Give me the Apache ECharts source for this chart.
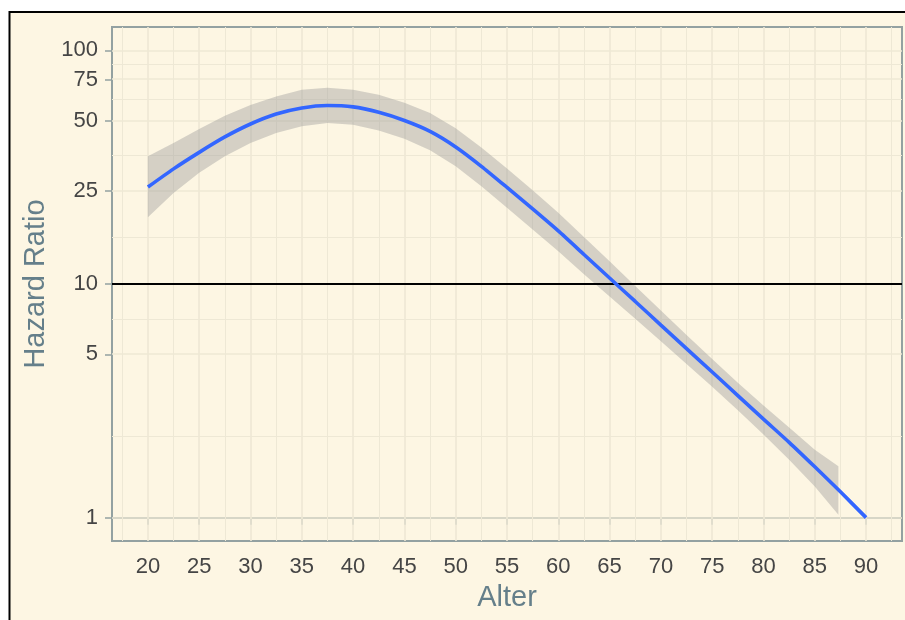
<!DOCTYPE html>
<html>
<head>
<meta charset="utf-8">
<style>
  html, body { margin: 0; padding: 0; background: #ffffff; }
  #chart { width: 905px; height: 620px; }
</style>
<script src="https://cdn.jsdelivr.net/npm/echarts@6/dist/echarts.min.js"></script>
</head>
<body>
<div id="chart"></div>
<script>
// axis ticks
const ageTicks = [20, 25, 30, 35, 40, 45, 50, 55, 60, 65, 70, 75, 80, 85, 90];
const hrTicks = [1, 5, 10, 25, 50, 75, 100];

// fitted hazard ratio (spline)
const ageLine = [20, 22.5, 25, 27.5, 30, 32.5, 35, 37.5, 40, 42.5, 45, 47.5, 50, 52.5, 55,
  57.5, 60, 62.5, 65, 67.5, 70, 72.5, 75, 77.5, 80, 82.5, 85, 87.5, 90];
const hrLine = [26.0, 31.1, 36.6, 42.6, 48.4, 53.4, 56.7, 58.1, 57.3, 54.3, 50.1, 45.0, 38.6, 31.9, 25.9,
  20.95, 16.87, 13.38, 10.61, 8.42, 6.67, 5.29, 4.20, 3.33, 2.64, 2.10, 1.65, 1.29, 1.0];

// confidence band
const ageBand = [20, 22.5, 25, 27.5, 30, 32.5, 35, 37.5, 40, 42.5, 45, 47.5, 50, 52.5, 55,
  57.5, 60, 62.5, 65, 67.5, 70, 72.5, 75, 77.5, 80, 82.5, 85, 87.3];
const hrUpper = [35.2, 40.1, 46.1, 52.5, 58.4, 63.5, 67.9, 69.2, 67.9, 64.6, 59.7, 53.9, 46.4, 38.4, 31.2,
  25.2, 20.2, 15.9, 12.5, 9.8, 7.7, 6.05, 4.77, 3.78, 3.02, 2.43, 1.95, 1.66];
const hrLower = [19.3, 24.5, 29.9, 35.2, 40.1, 44.3, 47.3, 48.9, 48.1, 45.4, 41.9, 37.4, 31.9, 26.2, 21.2,
  17.1, 13.8, 11.0, 8.85, 7.10, 5.69, 4.55, 3.63, 2.88, 2.27, 1.77, 1.36, 1.03];

const refLevel = 10;

// log10 scale, like scale_y_log10
const lg = v => Math.log10(v);

// 5% expansion like ggplot
const xPad = (ageTicks[ageTicks.length - 1] - ageTicks[0]) * 0.05;
const xMin = ageTicks[0] - xPad, xMax = ageTicks[ageTicks.length - 1] + xPad;
const yPad = (lg(hrTicks[hrTicks.length - 1]) - lg(hrTicks[0])) * 0.05;
const yMin = lg(hrTicks[0]) - yPad, yMax = lg(hrTicks[hrTicks.length - 1]) + yPad;

// minor breaks: midpoints between majors
const ageMinor = ageTicks.map(v => v - 2.5).concat([ageTicks[ageTicks.length - 1] + 2.5]);
const hrMinor = [];
for (let i = 0; i < hrTicks.length - 1; i++) {
  hrMinor.push((lg(hrTicks[i]) + lg(hrTicks[i + 1])) / 2);
}

const axisGrey = '#93a1a1';
const gridCol = '#eee8d5';
const labelCol = '#454545';
const titleCol = '#657f8a';
const font = '"Liberation Sans", Arial, sans-serif';

const gridLines = []
  .concat(ageTicks.map(v => ({ xAxis: v, lineStyle: { width: 1.6 } })))
  .concat(ageMinor.map(v => ({ xAxis: v, lineStyle: { width: 1 } })))
  .concat(hrTicks.map(v => ({ yAxis: lg(v), lineStyle: { width: 1.6 } })))
  .concat(hrMinor.map(v => ({ yAxis: v, lineStyle: { width: 1 } })));

const bandData = ageBand.map((a, i) => [a, lg(hrLower[i]), lg(hrUpper[i])]);

function renderBand(params, api) {
  if (params.dataIndex !== 0) return null;
  const top = bandData.map(d => api.coord([d[0], d[2]]));
  const bottom = bandData.map(d => api.coord([d[0], d[1]])).reverse();
  return {
    type: 'polygon',
    shape: { points: top.concat(bottom) },
    style: { fill: 'rgba(153,153,153,0.4)' },
    silent: true
  };
}

const chart = echarts.init(document.getElementById('chart'), null, { renderer: 'canvas' });

chart.setOption({
  animation: false,
  backgroundColor: '#ffffff',
  textStyle: { fontFamily: font },
  graphic: [{
    type: 'rect',
    z: -100,
    shape: { x: 9.5, y: 12, width: 1200, height: 1200 },
    style: { fill: '#fdf6e3', stroke: '#000000', lineWidth: 2 }
  }],
  grid: {
    left: 112, right: 3, top: 27, bottom: 79,
    show: true,
    backgroundColor: '#fdf6e3',
    borderColor: axisGrey,
    borderWidth: 2
  },
  xAxis: {
    type: 'value',
    min: xMin, max: xMax,
    name: 'Alter',
    nameLocation: 'middle',
    nameGap: 42,
    nameTextStyle: { color: titleCol, fontSize: 29, fontFamily: font },
    axisLine: { show: true, lineStyle: { color: axisGrey, width: 2 } },
    axisTick: { show: true, customValues: ageTicks, length: 7, lineStyle: { color: axisGrey, width: 1.5 } },
    axisLabel: { customValues: ageTicks, color: labelCol, fontSize: 22, margin: 15, fontFamily: font },
    splitLine: { show: false }
  },
  yAxis: {
    type: 'value',
    min: yMin, max: yMax,
    name: 'Hazard Ratio',
    nameLocation: 'middle',
    nameGap: 56,
    nameRotate: 90,
    nameTextStyle: { color: titleCol, fontSize: 29, fontFamily: font },
    axisLine: { show: true, lineStyle: { color: axisGrey, width: 2 } },
    axisTick: { show: true, customValues: hrTicks.map(lg), length: 7, lineStyle: { color: axisGrey, width: 1.5 } },
    axisLabel: {
      customValues: hrTicks.map(lg),
      color: labelCol, fontSize: 22, margin: 14, fontFamily: font,
      formatter: v => String(Math.round(Math.pow(10, v)))
    },
    splitLine: { show: false }
  },
  series: [
    {
      // grid lines
      type: 'line',
      data: [],
      z: 1,
      silent: true,
      markLine: {
        z: 1,
        silent: true,
        symbol: 'none',
        label: { show: false },
        emphasis: { disabled: true },
        lineStyle: { color: gridCol, type: 'solid' },
        data: gridLines
      }
    },
    {
      // confidence band
      type: 'custom',
      z: 2,
      silent: true,
      renderItem: renderBand,
      data: bandData
    },
    {
      // reference line
      type: 'line',
      data: [],
      z: 3,
      markLine: {
        z: 3,
        silent: true,
        symbol: 'none',
        label: { show: false },
        emphasis: { disabled: true },
        lineStyle: { color: '#000000', width: 2, type: 'solid' },
        data: [{ yAxis: lg(refLevel) }]
      }
    },
    {
      type: 'line',
      z: 4,
      symbol: 'none',
      smooth: 0.2,
      lineStyle: { color: '#3366ff', width: 3.6 },
      data: ageLine.map((a, i) => [a, lg(hrLine[i])])
    }
  ]
});
</script>
</body>
</html>
